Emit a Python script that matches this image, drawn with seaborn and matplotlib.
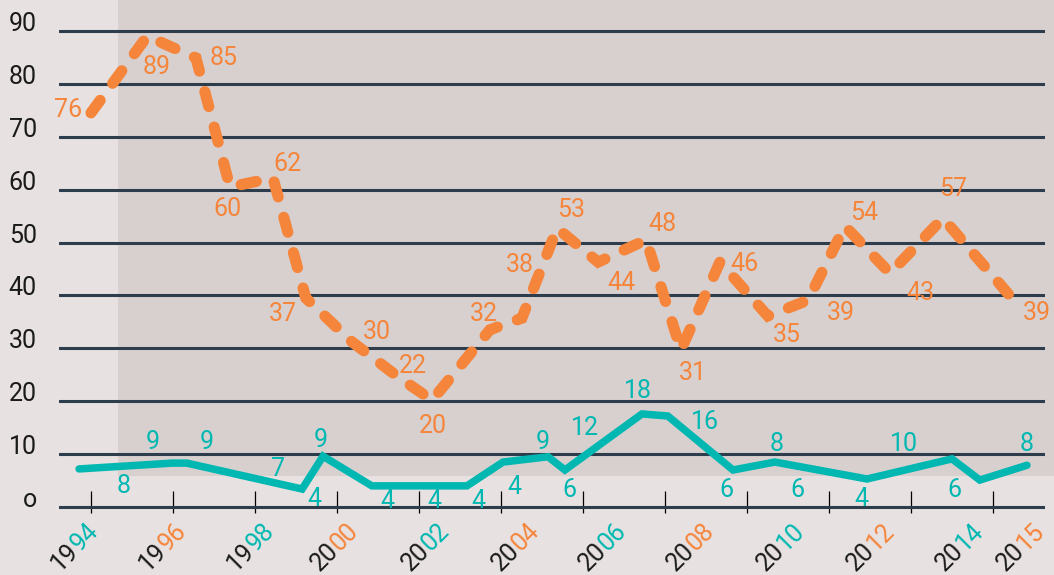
import numpy as np
import pandas as pd
import matplotlib.pyplot as plt
import seaborn as sns
from matplotlib.patches import Rectangle

TEAL = "#00b8b1"
ORANGE = "#f5853b"
GRID = "#2d3d4c"
INK = "#1a1a1a"
BG_OUTER = "#e7e1e1"
BG_INNER = "#d8d0cf"

# orange series: path as drawn (x in years, level) and the printed numbers
orange_x = [1994.00, 1995.37, 1996.56, 1997.39, 1998.44, 1999.24, 2000.37, 2001.49,
            2002.32, 2003.73, 2004.51, 2005.37, 2006.37, 2007.54, 2008.39, 2009.34,
            2010.51, 2011.49, 2012.39, 2013.49, 2014.78, 2016.54]
orange_y = [74.5, 89.0, 84.9, 60.5, 62.2, 39.5, 31.2, 24.6, 20.2, 33.5, 35.7,
            52.7, 46.3, 50.5, 29.7, 46.3, 36.1, 39.1, 53.1, 44.2, 54.6, 38.8]
orange_values = [76, 89, 85, 60, 62, 37, 30, 22, 20, 32, 38, 53, 44, 48, 31, 46,
                 35, 39, 54, 43, 57, 39]
orange_label_x = [1993.44, 1995.61, 1997.24, 1997.32, 1998.78, 1998.68, 2000.98, 2001.85,
                  2002.34, 2003.59, 2004.46, 2005.71, 2006.95, 2007.95, 2008.68, 2009.95,
                  2010.98, 2012.29, 2012.85, 2014.24, 2015.02, 2017.07]
orange_label_y = [73.8, 81.9, 83.6, 55.1, 63.6, 35.1, 31.8, 25.4, 13.9, 35.1, 44.5,
                  54.9, 41.1, 52.1, 24.1, 44.7, 31.1, 35.3, 54.3, 39.2, 58.7, 35.3]

# teal series
teal_x = [1993.71, 1995.98, 1996.34, 1999.15, 1999.66, 2000.85, 2003.17, 2004.05,
          2005.15, 2005.56, 2007.44, 2008.07, 2009.66, 2010.68, 2012.93, 2015.00,
          2015.68, 2016.83]
teal_y = [7.2, 8.3, 8.3, 3.4, 9.6, 4.0, 4.0, 8.5, 9.5, 7.0, 17.6, 17.2, 7.0, 8.5,
          5.3, 9.1, 5.1, 7.9]
teal_values = [8, 9, 9, 7, 4, 9, 4, 4, 4, 4, 9, 6, 12, 18, 16, 6, 8, 6, 4, 10, 6, 8]
teal_label_x = [1994.80, 1995.51, 1996.83, 1998.56, 1999.46, 1999.61, 2001.22, 2002.37,
                2003.46, 2004.32, 2005.02, 2005.66, 2006.05, 2007.34, 2008.98, 2009.49,
                2010.73, 2011.24, 2012.80, 2013.83, 2015.05, 2016.83]
teal_label_y = [2.7, 10.9, 10.9, 5.8, 0.1, 11.4, -0.1, -0.1, -0.1, 2.4, 10.9, 1.8,
                13.7, 20.7, 14.8, 1.8, 10.5, 1.8, 0.1, 10.5, 1.8, 10.5]

tick_years = [1994, 1996, 1998, 2000, 2002, 2004, 2006, 2008, 2010, 2012, 2014, 2016]
year_labels = ["1994", "1996", "1998", "2000", "2002", "2004", "2006", "2008",
               "2010", "2012", "2014", "2015"]
year_label_x = [1993.73, 1995.88, 1998.02, 2000.07, 2002.29, 2004.49, 2006.61,
                2008.76, 2010.95, 2013.15, 2015.32, 2016.80]
year_accent = [TEAL, ORANGE] * 6

y_ticks = [0, 10, 20, 30, 40, 50, 60, 70, 80, 90]
y_tick_labels = ["o", "10", "20", "30", "40", "50", "60", "70", "80", "90"]

orange_df = pd.DataFrame({"x": orange_x, "y": orange_y})
teal_df = pd.DataFrame({"x": teal_x, "y": teal_y})

sns.set_theme(style="white")
plt.rcParams["font.family"] = ["Roboto", "DejaVu Sans"]
FS = 18

W, H = 1054, 575
fig = plt.figure(figsize=(W / 100, H / 100), dpi=100, facecolor=BG_OUTER)
ax = fig.add_axes([59 / W, (H - 513) / H, (1045 - 59) / W, 513 / H])
ax.set_facecolor("none")

fig.add_artist(Rectangle((118 / W, (H - 476) / H), (W - 118) / W, 476 / H,
                         transform=fig.transFigure, facecolor=BG_INNER,
                         edgecolor="none", zorder=-5))

sns.lineplot(data=teal_df, x="x", y="y", sort=False, estimator=None, ax=ax,
             color=TEAL, linewidth=5.4, solid_capstyle="round",
             solid_joinstyle="miter", zorder=3)
sns.lineplot(data=orange_df, x="x", y="y", sort=False, estimator=None, ax=ax,
             color=ORANGE, linewidth=8, linestyle=(0, (1.4, 1.9)),
             dash_capstyle="round", dash_joinstyle="miter", zorder=3)

for v, x, y in zip(orange_values, orange_label_x, orange_label_y):
    ax.text(x, y, str(v), color=ORANGE, fontsize=FS, ha="center",
            va="baseline", zorder=4, clip_on=False)
for v, x, y in zip(teal_values, teal_label_x, teal_label_y):
    ax.text(x, y, str(v), color=TEAL, fontsize=FS, ha="center",
            va="baseline", zorder=4, clip_on=False)

ax.set_xlim(1993.22, 2017.27)
ax.set_ylim(-1.13, 95.84)

ax.set_yticks(y_ticks)
ax.set_yticklabels(y_tick_labels, fontsize=FS, color=INK)
for lab in ax.get_yticklabels():
    lab.set_verticalalignment("baseline")
ax.tick_params(axis="y", length=0, pad=16)
ax.yaxis.grid(True, color=GRID, linewidth=2.2)
ax.set_axisbelow(True)

ax.set_xticks(tick_years)
ax.set_xticklabels([])
ax.tick_params(axis="x", direction="in", length=15.8, width=0.9, color="black",
               bottom=True)

# two-tone rotated year labels
for lab, x, col in zip(year_labels, year_label_x, year_accent):
    for part, ha, c in ((lab[:2], "right", INK), (lab[2:], "left", col)):
        ax.annotate(part, xy=(x, 0), xycoords=("data", "axes fraction"),
                    xytext=(0, -28), textcoords="offset points",
                    rotation=45, rotation_mode="anchor", ha=ha, va="baseline",
                    fontsize=FS, color=c, annotation_clip=False)

ax.set_xlabel("")
ax.set_ylabel("")
for s in ax.spines.values():
    s.set_visible(False)

fig.savefig("out.png", dpi=100, facecolor=fig.get_facecolor())
